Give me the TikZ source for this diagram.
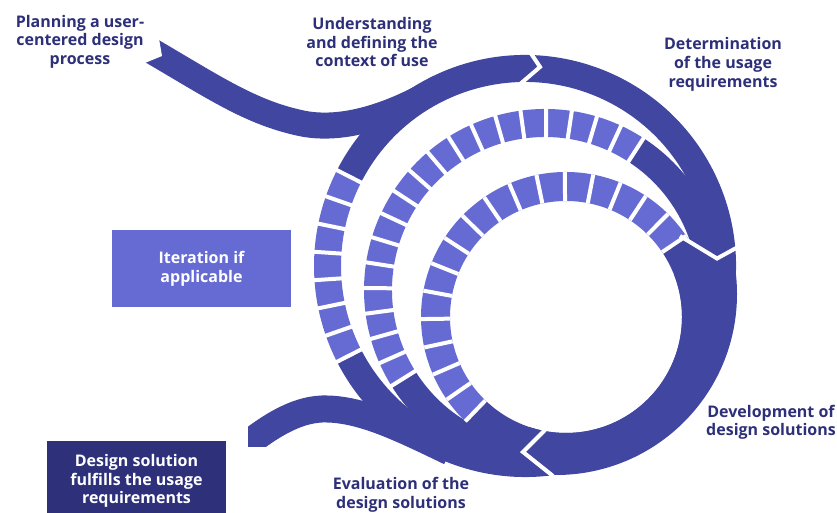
\documentclass[tikz,border=0pt]{standalone}
\usepackage{fontspec}
\setmainfont{Open Sans}
\definecolor{bandc}{RGB}{65,70,160}
\definecolor{lightc}{RGB}{102,107,212}
\definecolor{navyc}{RGB}{45,48,121}
\definecolor{boxdark}{RGB}{46,49,122}
\newcommand\annsec[5]{([shift={(#2:#5)}]#1) arc[start angle=#2,end angle=#3,radius=#5] -- ([shift={(#3:#4)}]#1) arc[start angle=#3,end angle=#2,radius=#4] -- cycle}
\begin{document}
\begin{tikzpicture}[x=1pt,y=1pt,
  band/.style={fill=bandc},
  seg/.style={fill=lightc},
  gapline/.style={draw=white,line width=4pt},
  chev/.style={draw=white,line width=4pt,line join=miter,miter limit=10},
  stagetext/.style={text=navyc,font=\bfseries\fontsize{16}{18.7}\selectfont,align=center,inner sep=0pt},
  boxtext/.style={text=white,font=\bfseries\fontsize{16}{18.7}\selectfont,align=center,inner sep=0pt,minimum width=179pt}]
\useasboundingbox (0,0) rectangle (837,513);
\coordinate (O1) at (525,247);
\coordinate (OB) at (545,223);
\coordinate (OC) at (566,196);
\coordinate (C2) at (556,219);
% dark bands
\fill[band] \annsec{O1}{207}{513}{184}{211};
\fill[band] \annsec{OB}{212}{300}{153}{181};
\fill[band] \annsec{OB}{-20}{57}{153}{181};
\fill[band] \annsec{OC}{226}{394}{116}{145};
\begin{scope}
  \clip (OC) -- ([shift={(252:400)}]OC) -- ([shift={(300:400)}]OC) -- ([shift={(340:400)}]OC) -- ([shift={(21:400)}]OC) -- cycle;
  \fill[band,even odd rule] (C2) circle[radius=181] (OC) circle[radius=116];
\end{scope}
% incoming arrow
\coordinate (inS) at (150,463);
\coordinate (inE) at (425.5,417.6);
\draw[bandc,line width=26pt] (inS) .. controls (215,425) and (250,401) .. (300,390) .. controls (345,380) and (395,401) .. (inE);
\fill[white] (158.5,477.4) -- (162,457) -- (141.5,448.6) -- (130,440) -- (140,490) -- cycle;
% outgoing arrow
\begin{scope}
  \clip (248,66) -- (248,200) -- (600,200) -- (600,0) -- (300,0) -- (300,66) -- cycle;
  \coordinate (outS) at (450,61);
  \coordinate (outE) at (240,63);
  \draw[bandc,line width=27pt] (outS) .. controls (400,85) and (360,105) .. (322,104) .. controls (295,103) and (268,86) .. (outE);
\end{scope}
% dashed rings
\fill[seg] \annsec{O1}{153}{207}{184}{211};
\fill[seg] \annsec{OB}{57}{212}{153}{181};
\fill[seg] \annsec{OC}{34}{226}{116}{145};
\foreach \k in {0,...,7}{\pgfmathsetmacro\ang{153+\k*54/7}
  \draw[gapline] ([shift={(\ang:183)}]O1) -- ([shift={(\ang:212)}]O1);}
\foreach \k in {0,...,19}{\pgfmathsetmacro\ang{57+\k*155/19}
  \draw[gapline] ([shift={(\ang:152)}]OB) -- ([shift={(\ang:182)}]OB);}
\foreach \k in {0,...,17}{\pgfmathsetmacro\ang{34+\k*192/17}
  \draw[gapline] ([shift={(\ang:116)}]OC) -- ([shift={(\ang:145)}]OC);}
% chevrons
\draw[chev] (519,428) -- (540,446) -- (530,461);
\draw[chev] (680,277) -- (717,254.5) -- (738,266);
\draw[chev] (545,83) -- (523,61) -- (553,37);
% boxes
\node[boxtext,fill=lightc,minimum height=77pt] (iter) at (201.5,244.5) {Iteration if\\applicable};
\node[boxtext,fill=boxdark,minimum height=80pt] (done) at (136.5,32) {Design solution\\fulfills the usage\\requirements};
% labels
\node[stagetext] (plan) at (80,471.3) {Planning a user-\\centered design\\process};
\node[stagetext] (ctx) at (372,470.7) {Understanding\\and defining the\\context of use};
\node[stagetext] (req) at (723,448.7) {Determination\\of the usage\\requirements};
\node[stagetext] (dev) at (771,90.7) {Development of\\design solutions};
\node[stagetext] (eval) at (401,18.5) {Evaluation of the\\design solutions};
\end{tikzpicture}
\end{document}
